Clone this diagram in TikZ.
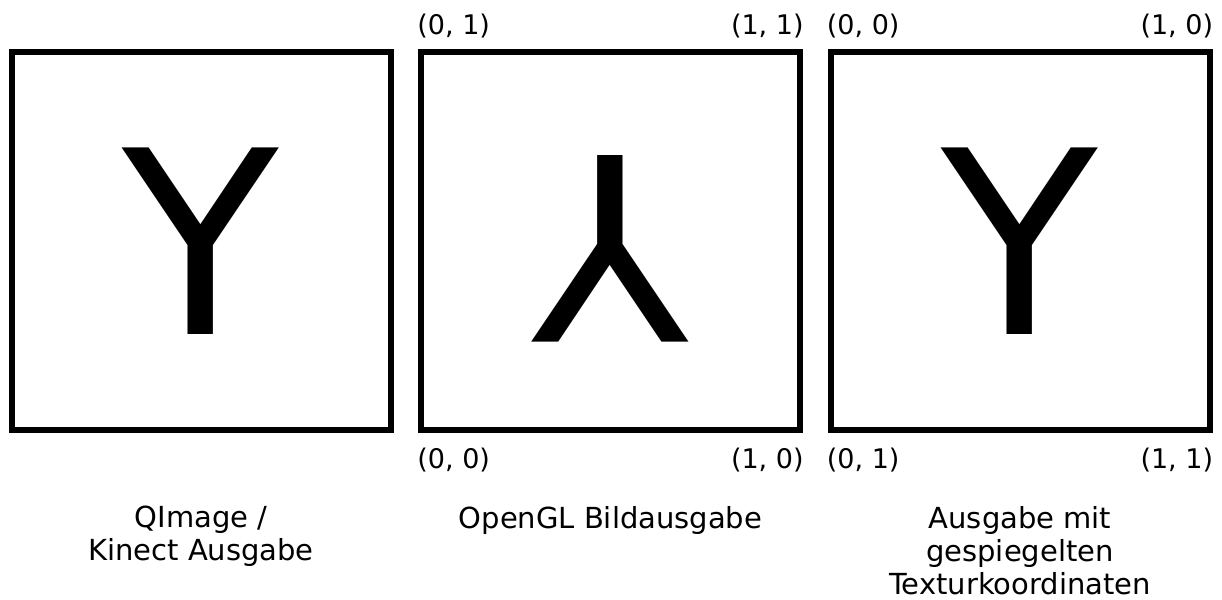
\documentclass[tikz,border=0pt]{standalone}
\usepackage{fontspec}
\setmainfont{DejaVu Sans}
\usetikzlibrary{positioning}
\tikzset{
  imgbox/.style={rectangle, draw=black, line width=3pt, minimum width=189.5pt, minimum height=189.25pt, inner sep=0pt, outer sep=0pt},
  glyph/.style={inner sep=0pt, font=\fontsize{128}{150}\selectfont},
  corner/.style={inner sep=0pt, font=\fontsize{13.5}{16}\selectfont},
  caption/.style={inner sep=0pt, align=center, font=\fontsize{14.5}{16.5}\selectfont},
}

\begin{document}
\begin{tikzpicture}[x=0.5pt, y=-0.5pt]
\useasboundingbox (0,0) rectangle (1222,600);
% the three frames
\node (qimg) [imgbox] at (201,240.8) {};
\node (glimg) [imgbox, right=15.25pt of qimg] {};
\node (miimg) [imgbox, right=15.25pt of glimg] {};
% letters
\node (qy) [glyph] at (qimg.center) {Y};
\node (gly) [glyph, rotate=180] at ([yshift=-4pt]glimg.center) {Y};
\node (miy) [glyph] at (miimg.center) {Y};
% texture coordinates, OpenGL
\node (gl01) [corner, above right=6.5pt and -2pt of glimg.north west] {(0, 1)};
\node (gl11) [corner, above left=6.5pt and -2pt of glimg.north east] {(1, 1)};
\node (gl00) [corner, below right=9pt and -2pt of glimg.south west] {(0, 0)};
\node (gl10) [corner, below left=9pt and -2pt of glimg.south east] {(1, 0)};
% texture coordinates, mirrored
\node (mi00) [corner, above right=6.5pt and -2pt of miimg.north west] {(0, 0)};
\node (mi10) [corner, above left=6.5pt and -2pt of miimg.north east] {(1, 0)};
\node (mi01) [corner, below right=9pt and -2pt of miimg.south west] {(0, 1)};
\node (mi11) [corner, below left=9pt and -2pt of miimg.south east] {(1, 1)};
% captions
\node (qcap) [caption, below=38pt of qimg.south] {QImage /\\Kinect Ausgabe};
\node (glcap) [caption, below=38pt of glimg.south] {OpenGL Bildausgabe};
\node (micap) [caption, below=38pt of miimg.south] {Ausgabe mit\\gespiegelten\\Texturkoordinaten};
\end{tikzpicture}
\end{document}
